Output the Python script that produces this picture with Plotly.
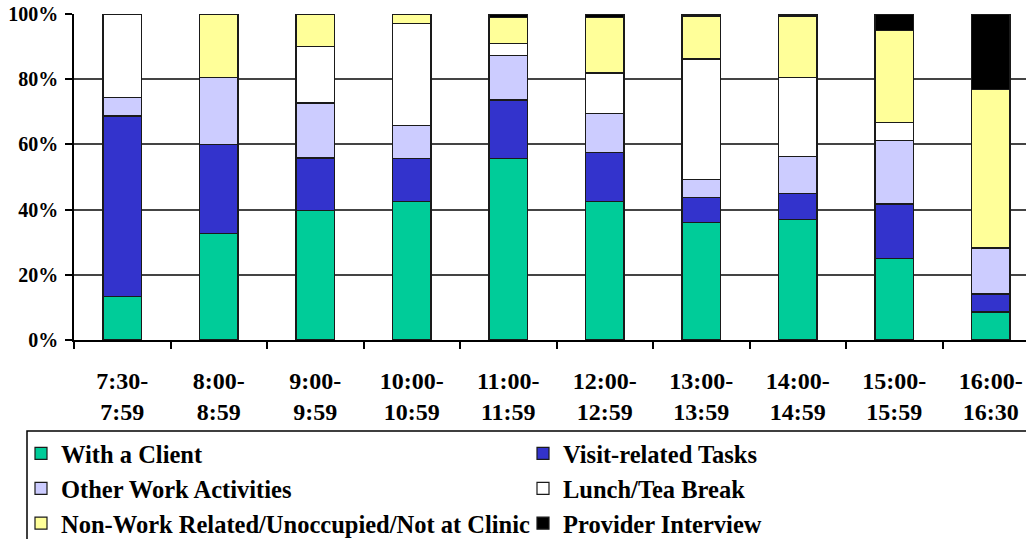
import plotly.graph_objects as go

categories = ["7:30-<br>7:59", "8:00-<br>8:59", "9:00-<br>9:59", "10:00-<br>10:59", "11:00-<br>11:59",
              "12:00-<br>12:59", "13:00-<br>13:59", "14:00-<br>14:59", "15:00-<br>15:59", "16:00-<br>16:30"]

with_client = [13.3, 32.6, 39.7, 42.4, 55.7, 42.4, 36.1, 37.0, 25.1, 8.6]
visit_tasks = [55.4, 27.4, 16.1, 13.3, 17.9, 15.0, 7.6, 7.9, 16.6, 5.5]
other_work = [5.6, 20.5, 16.9, 10.0, 13.7, 12.2, 5.5, 11.4, 19.6, 13.9]
lunch_break = [25.7, 0.0, 17.4, 31.4, 3.6, 12.3, 37.0, 24.3, 5.5, 0.3]
non_work = [0.0, 19.5, 9.9, 2.9, 8.1, 17.1, 13.2, 18.8, 28.2, 48.6]
interview = [0.0, 0.0, 0.0, 0.0, 1.0, 1.0, 0.6, 0.6, 5.0, 23.1]

series = [
    ("With a Client", with_client, "#00CC99"),
    ("Visit-related Tasks", visit_tasks, "#3333CC"),
    ("Other Work Activities", other_work, "#CCCCFF"),
    ("Lunch/Tea Break", lunch_break, "#FFFFFF"),
    ("Non-Work Related/Unoccupied/Not at Clinic", non_work, "#FFFF99"),
    ("Provider Interview", interview, "#000000"),
]

fig = go.Figure()
for name, vals, color in series:
    fig.add_trace(go.Bar(
        x=categories, y=[v / 100 for v in vals], name=name,
        marker=dict(color=color, line=dict(color="#1a1a1a", width=1.2)),
    ))

FONT = "Liberation Serif"
W, H = 1026, 539
ML, MT, MB = 74, 14, 199
PW = W - ML
PH = H - MT - MB


def px_x(p):
    return (p - ML) / PW


def px_y(p):
    return (MT + PH - p) / PH


# legend frame (extends past the right and bottom edges, as in the reference)
fig.add_shape(type="rect", xref="paper", yref="paper",
              x0=px_x(27), x1=px_x(1045), y0=px_y(431), y1=px_y(570),
              line=dict(color="black", width=1.5), fillcolor="rgba(0,0,0,0)",
              layer="above")

fig.update_layout(
    barmode="stack",
    bargap=0.6,
    width=W, height=H,
    margin=dict(l=ML, r=0, t=MT, b=MB, autoexpand=False),
    plot_bgcolor="white", paper_bgcolor="white",
    font=dict(family=FONT, size=24, color="black", weight="bold"),
    xaxis=dict(
        range=[-0.5, 9.365], tickson="boundaries", ticks="outside", ticklen=7,
        tickcolor="black", tickwidth=1.5, showline=True, linecolor="black", linewidth=1.5,
        showgrid=False, tickfont=dict(size=24, family=FONT, weight="bold"),
        ticklabelstandoff=18, automargin=False,
    ),
    yaxis=dict(
        range=[0, 1], tickvals=[0, 0.2, 0.4, 0.6, 0.8, 1.0], tickformat=".0%",
        ticks="outside", ticklen=7, tickcolor="black", tickwidth=1.5,
        showline=True, linecolor="black", linewidth=1.5,
        showgrid=True, gridcolor="#444444", gridwidth=1.5, zeroline=False,
        tickfont=dict(size=20, family=FONT, weight="bold"), ticklabelstandoff=3,
        automargin=False,
    ),
    legend=dict(
        orientation="h",
        x=px_x(21), y=px_y(431), xanchor="left", yanchor="top",
        borderwidth=0, bgcolor="rgba(0,0,0,0)",
        entrywidth=457, itemwidth=30, traceorder="normal",
        font=dict(size=24.5, family=FONT, weight="bold"),
    ),
)

fig.write_html(
    "out.html",
    config={"displayModeBar": False},
    post_script="document.body.style.margin='0';document.body.style.overflow='hidden';",
)
